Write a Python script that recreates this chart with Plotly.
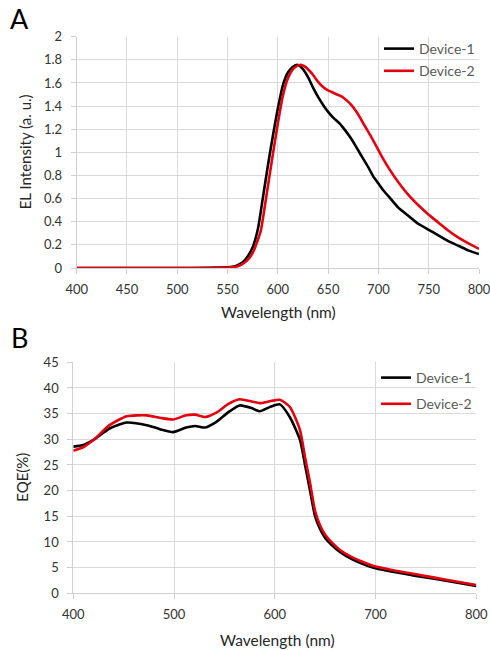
import plotly.graph_objects as go

# ---------------- Panel A: EL spectra ----------------
el_wl_1 = [400, 450, 500, 530, 550, 555, 560, 565, 570, 575, 580, 585, 590, 595, 600, 605,
           610, 615, 620, 625, 630, 635, 640, 645, 650, 655, 662, 667, 672, 677, 682,
           690, 695, 700, 705, 712, 720, 730, 740, 750, 760, 770, 780, 790, 800]
el_dev1 = [0.0, 0.0, 0.0, 0.001, 0.005, 0.01, 0.025, 0.05, 0.1, 0.18, 0.33, 0.6, 0.88, 1.14, 1.38, 1.58,
           1.69, 1.74, 1.756, 1.72, 1.65, 1.56, 1.48, 1.41, 1.35, 1.30, 1.245, 1.19, 1.13, 1.06, 0.986,
           0.87, 0.79, 0.73, 0.67, 0.60, 0.52, 0.45, 0.38, 0.33, 0.28, 0.23, 0.19, 0.15, 0.12]

el_wl_2 = [400, 450, 500, 530, 550, 560, 565, 570, 575, 580, 583, 585, 590, 595, 600, 605,
           610, 615, 620, 623.5, 628, 634, 640, 645, 650, 659, 664, 669, 674, 679,
           687, 695, 703, 712, 720, 730, 740, 750, 760, 770, 780, 790, 800]
el_dev2 = [0.0, 0.0, 0.0, 0.0, 0.003, 0.015, 0.035, 0.07, 0.13, 0.24, 0.32, 0.42, 0.7, 0.98, 1.25, 1.49,
           1.64, 1.72, 1.75, 1.756, 1.735, 1.68, 1.61, 1.565, 1.535, 1.50, 1.48, 1.445, 1.40, 1.34,
           1.22, 1.10, 0.97, 0.84, 0.74, 0.63, 0.54, 0.46, 0.39, 0.32, 0.26, 0.21, 0.165]

# ---------------- Panel B: EQE spectra ----------------
eqe_wl_1 = [400, 410, 420, 436, 453, 473, 486, 499, 512, 521, 531, 542, 554, 565, 577, 585,
            595, 605, 615, 625, 630, 635, 640, 645, 650, 656, 665, 676, 690, 700, 720, 740,
            760, 780, 800]
eqe_dev1 = [28.58, 28.9, 29.87, 32.1, 33.27, 32.75, 31.98, 31.4, 32.3, 32.6, 32.3, 33.4, 35.3, 36.6,
            36.08, 35.45, 36.27, 36.8, 34.3, 29.9, 25.0, 20.0, 15.0, 12.5, 10.8, 9.5, 8.0, 6.7,
            5.5, 4.9, 4.1, 3.4, 2.8, 2.1, 1.45]

eqe_wl_2 = [400, 410, 420, 436, 453, 473, 486, 499, 512, 521, 531, 542, 554, 565, 577, 585,
            595, 605, 615, 625, 630, 635, 640, 645, 650, 656, 665, 676, 690, 700, 720, 740,
            760, 780, 800]
eqe_dev2 = [27.75, 28.5, 29.87, 32.75, 34.48, 34.67, 34.2, 33.85, 34.67, 34.8, 34.35, 35.2, 36.9,
            37.8, 37.37, 37.04, 37.4, 37.7, 36.3, 31.8, 26.5, 21.5, 16.0, 13.2, 11.4, 10.0, 8.4,
            7.1, 5.9, 5.2, 4.4, 3.7, 3.0, 2.3, 1.6]

series_names = ["Device-1", "Device-2"]
series_colors = ["#000000", "#e3000f"]

el_x_ticks = [400, 450, 500, 550, 600, 650, 700, 750, 800]
el_y_ticks = [0, 0.2, 0.4, 0.6, 0.8, 1, 1.2, 1.4, 1.6, 1.8, 2]
eqe_x_ticks = [400, 500, 600, 700, 800]
eqe_y_ticks = [0, 5, 10, 15, 20, 25, 30, 35, 40, 45]

W, H = 490, 650
FONT = "Lato, 'Open Sans', sans-serif"
GRID = "#d9d9d9"
TXT = "#333333"


def px_x(p):
    return p / W


def px_y(p):
    return 1 - p / H


fig = go.Figure()

el_data = [(el_wl_1, el_dev1), (el_wl_2, el_dev2)]
for (xs, ys), name, col in zip(el_data, series_names, series_colors):
    fig.add_trace(go.Scatter(x=xs, y=ys, mode="lines", name=name,
                             line=dict(color=col, width=2.6, shape="spline", smoothing=0.6),
                             xaxis="x", yaxis="y", legend="legend", legendgroup="a" + name))

eqe_data = [(eqe_wl_1, eqe_dev1), (eqe_wl_2, eqe_dev2)]
for (xs, ys), name, col in zip(eqe_data, series_names, series_colors):
    fig.add_trace(go.Scatter(x=xs, y=ys, mode="lines", name=name,
                             line=dict(color=col, width=2.6, shape="spline", smoothing=0.6),
                             xaxis="x2", yaxis="y2", legend="legend2", legendgroup="b" + name))

axis_common = dict(showgrid=True, gridcolor=GRID, gridwidth=1, zeroline=False,
                   showline=True, linecolor="#cfcfcf", linewidth=1, automargin=False,
                   ticks="outside", ticklen=5, tickcolor="#cfcfcf", ticklabeloverflow="allow",
                   tickfont=dict(family=FONT, size=13, color=TXT), fixedrange=True)

fig.update_layout(
    template="none",
    width=W, height=H,
    margin=dict(l=0, r=0, t=0, b=0, pad=0, autoexpand=False),
    paper_bgcolor="white", plot_bgcolor="white",
    showlegend=True,
    xaxis=dict(domain=[px_x(76.7), px_x(479)], range=[400, 800], tickvals=el_x_ticks,
               anchor="y", ticklabelstandoff=4, **axis_common),
    yaxis=dict(domain=[px_y(268), px_y(36.7)], range=[0, 2], tickvals=el_y_ticks,
               anchor="x", ticklabelstandoff=6, **axis_common),
    xaxis2=dict(domain=[px_x(73.3), px_x(476.3)], range=[400, 800], tickvals=eqe_x_ticks,
                anchor="y2", ticklabelstandoff=4, **axis_common),
    yaxis2=dict(domain=[px_y(593.3), px_y(362.3)], range=[0, 45], tickvals=eqe_y_ticks,
                anchor="x2", ticklabelstandoff=6, **axis_common),
    legend=dict(x=px_x(379), y=px_y(33), xanchor="left", yanchor="top",
                bgcolor="rgba(0,0,0,0)", borderwidth=0,
                font=dict(family=FONT, size=14, color="#595959"),
                tracegroupgap=1, traceorder="grouped"),
    legend2=dict(x=px_x(376), y=px_y(362), xanchor="left", yanchor="top",
                 bgcolor="rgba(0,0,0,0)", borderwidth=0,
                 font=dict(family=FONT, size=14, color="#595959"),
                 tracegroupgap=5, traceorder="grouped"),
)

ann = []
ann.append(dict(text="A", x=px_x(8), y=px_y(0), xref="paper", yref="paper",
                xanchor="left", yanchor="top", showarrow=False,
                font=dict(family=FONT, size=27, color="#000000")))
ann.append(dict(text="B", x=px_x(9), y=px_y(319), xref="paper", yref="paper",
                xanchor="left", yanchor="top", showarrow=False,
                font=dict(family=FONT, size=27, color="#000000")))
ann.append(dict(text="Wavelength (nm)", x=px_x(278), y=px_y(311.5), xref="paper", yref="paper",
                xanchor="center", yanchor="middle", showarrow=False,
                font=dict(family=FONT, size=15.5, color="#262626")))
ann.append(dict(text="Wavelength (nm)", x=px_x(277.5), y=px_y(639.5), xref="paper", yref="paper",
                xanchor="center", yanchor="middle", showarrow=False,
                font=dict(family=FONT, size=15.5, color="#262626")))
ann.append(dict(text="EL Intensity (a. u.)", x=px_x(25), y=px_y(152.3), xref="paper", yref="paper",
                xanchor="center", yanchor="middle", showarrow=False, textangle=-90,
                font=dict(family=FONT, size=15, color="#262626")))
ann.append(dict(text="EQE(%)", x=px_x(22), y=px_y(477.8), xref="paper", yref="paper",
                xanchor="center", yanchor="middle", showarrow=False, textangle=-90,
                font=dict(family=FONT, size=15, color="#262626")))
fig.update_layout(annotations=ann)

fig.write_html("out.html",
               post_script="document.body.style.margin='0';document.body.style.overflow='hidden';")
